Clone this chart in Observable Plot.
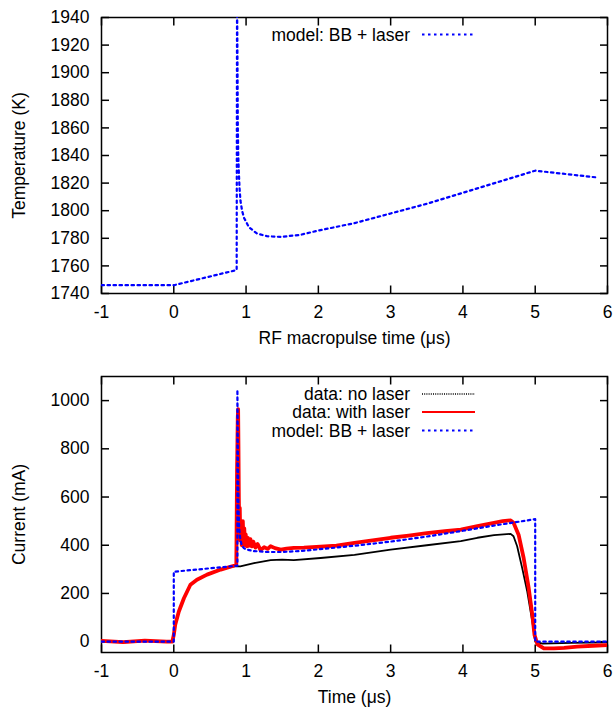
<!DOCTYPE html>
<html><head><meta charset="utf-8">
<script src="https://cdn.jsdelivr.net/npm/d3@7"></script>
<script src="https://cdn.jsdelivr.net/npm/@observablehq/plot@0.6"></script>
<style>body{margin:0;background:#fff} svg{display:block}</style>
</head><body><div id="chart"></div>
<script>
// ---- tick labels ----
const xTicks = [-1, 0, 1, 2, 3, 4, 5, 6];
const tempTicks = [1740, 1760, 1780, 1800, 1820, 1840, 1860, 1880, 1900, 1920, 1940];
const curTicks = [0, 200, 400, 600, 800, 1000];

// ---- top panel: temperature model ----
const tTime = [-1, 0, 0.87, 0.875, 0.878, 0.882, 0.886, 0.892, 0.9, 0.91, 0.923, 0.945, 0.97, 1.04, 1.15, 1.29, 1.48, 1.75, 2.0, 2.5, 3.0, 3.5, 4.0, 4.5, 5.0, 5.87];
const tTemp = [1746, 1746, 1757, 1950, 1935, 1900, 1860, 1840, 1828, 1816, 1807, 1800, 1795, 1788, 1783.5, 1781.5, 1781, 1782.5, 1785.6, 1791, 1798, 1805, 1813, 1821, 1829, 1824];

// ---- bottom panel: current ----
const bTime = [-1, -0.7, -0.4, -0.1, -0.02, 0, 0.02, 0.07, 0.14, 0.23, 0.32, 0.46, 0.65, 0.83, 0.92, 1.11, 1.34, 1.5, 1.66, 2.03, 2.5, 3.0, 3.5, 3.97, 4.2, 4.43, 4.66, 4.70, 4.75, 4.82, 4.89, 4.96, 5.0, 5.1, 5.5, 6.0];
const bCur = [2, -3, 3, 0, 0, 28, 70, 125, 180, 236, 257, 278, 299, 312, 312, 326, 338, 340, 338, 347, 360, 382, 400, 417, 431, 442, 447, 437, 396, 305, 208, 83, 0, -8, -5, -3];

const rTime = [-1, -0.7, -0.4, -0.1, -0.02, 0, 0.02, 0.07, 0.14, 0.23, 0.32, 0.46, 0.65, 0.83, 0.865, 0.875, 0.885, 0.89, 0.895, 0.9, 0.905, 0.913, 0.92, 0.93, 0.94, 0.955, 0.965, 0.975, 0.985, 0.995, 1.01, 1.025, 1.04, 1.06, 1.08, 1.1, 1.13, 1.16, 1.2, 1.25, 1.3, 1.34, 1.4, 1.48, 1.56, 1.66, 1.8, 2.03, 2.25, 2.5, 2.75, 3.0, 3.25, 3.5, 3.75, 3.97, 4.2, 4.43, 4.55, 4.66, 4.70, 4.77, 4.84, 4.91, 4.96, 4.99, 5.03, 5.12, 5.26, 5.4, 5.58, 5.8, 6.0];
const rCur = [3, -2, 4, 0, 0, 28, 70, 125, 180, 236, 257, 278, 299, 315, 322, 700, 930, 965, 800, 600, 480, 555, 420, 470, 400, 500, 410, 470, 400, 445, 395, 430, 398, 425, 395, 415, 390, 405, 380, 392, 385, 396, 388, 382, 386, 389, 390, 394, 398, 410, 420, 431, 440, 450, 458, 465, 479, 493, 500, 503, 493, 444, 347, 222, 111, 28, -11, -28, -28, -26, -21, -17, -14];

const mTime = [-1, 0, 0, 0.88, 0.88, 0.885, 0.89, 0.895, 0.905, 0.92, 0.94, 0.97, 1.0, 1.1, 1.3, 1.5, 1.75, 2.0, 2.5, 3.0, 3.5, 4.0, 4.5, 5.0, 5.0, 6.0];
const mCur = [0, 0, 290, 315, 1045, 850, 680, 560, 470, 425, 400, 388, 383, 376, 372, 372, 376, 383, 398, 415, 436, 460, 485, 508, 0, 0];

const zip = (xs, ys) => xs.map((x, i) => ({x, y: ys[i]}));
const FONT = "'Liberation Sans', Helvetica, Arial, sans-serif";
const BLUE = "#0000ff", RED = "#ff0000";
const fmt = d => String(d);

const W = 615, ML = 101, MR = 8, FH = 276, TLX = 8, TLY = 7.5;
const FW = W - ML - MR;
const X_DOMAIN = [-1, 6];

function axes(yDomain, yTicks, xLabel, yLabel) {
  // tick length expressed in data units of each scale
  const [xa, xb] = X_DOMAIN, [ya, yb] = yDomain;
  const dx = TLY * (xb - xa) / FW, dy = TLX * (yb - ya) / FH;
  const tickStyle = {stroke: "black", strokeWidth: 1.5};
  return [
    Plot.axisX({ticks: xTicks, tickSize: 0, tickPadding: 12, tickFormat: fmt, fontSize: 17.5,
      label: xLabel, labelAnchor: "center", labelOffset: 50, labelArrow: "none"}),
    Plot.axisY({ticks: yTicks, tickSize: 0, tickPadding: 12, tickFormat: fmt, fontSize: 17.5,
      label: yLabel, labelAnchor: "center", labelOffset: 89, labelArrow: "none"}),
    // inward ticks on all four sides (gnuplot style)
    Plot.link(xTicks, {x1: d => d, x2: d => d, y1: () => ya, y2: () => ya + dy, ...tickStyle}),
    Plot.link(xTicks, {x1: d => d, x2: d => d, y1: () => yb, y2: () => yb - dy, ...tickStyle}),
    Plot.link(yTicks, {y1: d => d, y2: d => d, x1: () => xa, x2: () => xa + dx, ...tickStyle}),
    Plot.link(yTicks, {y1: d => d, y2: d => d, x1: () => xb, x2: () => xb - dx, ...tickStyle}),
    Plot.frame({stroke: "black", strokeWidth: 1.5})
  ];
}

const TEMP_DOMAIN = [1740, 1940];
const CUR_DOMAIN = [-45, 1100];

const topPlot = Plot.plot({
  width: W, height: 350, marginTop: 17, marginBottom: 57, marginLeft: ML, marginRight: MR,
  style: {fontFamily: FONT, fontSize: "18px", color: "black", background: "white"},
  x: {domain: X_DOMAIN},
  y: {domain: TEMP_DOMAIN},
  marks: [
    ...axes(TEMP_DOMAIN, tempTicks, "RF macropulse time (μs)", "Temperature (K)"),
    Plot.line(zip(tTime, tTemp), {x: "x", y: "y", stroke: BLUE, strokeWidth: 2.2, strokeDasharray: "2.5,3.5", clip: true})
  ]
});

const bottomPlot = Plot.plot({
  width: W, height: 359, marginTop: 26, marginBottom: 57, marginLeft: ML, marginRight: MR,
  style: {fontFamily: FONT, fontSize: "18px", color: "black", background: "white"},
  x: {domain: X_DOMAIN},
  y: {domain: CUR_DOMAIN},
  marks: [
    ...axes(CUR_DOMAIN, curTicks, "Time (μs)", "Current (mA)"),
    Plot.line(zip(bTime, bCur), {x: "x", y: "y", stroke: "black", strokeWidth: 1.8, clip: true}),
    Plot.line(zip(rTime, rCur), {x: "x", y: "y", stroke: RED, strokeWidth: 3.8, clip: true}),
    Plot.line(zip(mTime, mCur), {x: "x", y: "y", stroke: BLUE, strokeWidth: 2.2, strokeDasharray: "2.5,3.5", clip: true})
  ]
});

function legend(svgNode, rows) {
  const g = d3.select(svgNode).append("g").attr("font-family", FONT).attr("font-size", 17.5);
  rows.forEach(r => {
    g.append("text").attr("x", 410).attr("y", r.base).attr("text-anchor", "end").attr("fill", "black").text(r.label);
    g.append("line").attr("x1", 422).attr("x2", 475).attr("y1", r.base - 6).attr("y2", r.base - 6)
      .attr("stroke", r.color).attr("stroke-width", r.width).attr("stroke-dasharray", r.dash || null);
  });
}
legend(topPlot, [{label: "model: BB + laser", base: 40.5, color: BLUE, width: 2.2, dash: "2.5,3.5"}]);
legend(bottomPlot, [
  {label: "data: no laser", base: 50, color: "black", width: 1.5, dash: "1,1.2"},
  {label: "data: with laser", base: 68, color: RED, width: 2.2},
  {label: "model: BB + laser", base: 86.5, color: BLUE, width: 2.2, dash: "2.5,3.5"}
]);

document.getElementById("chart").append(topPlot, bottomPlot);
</script></body></html>
